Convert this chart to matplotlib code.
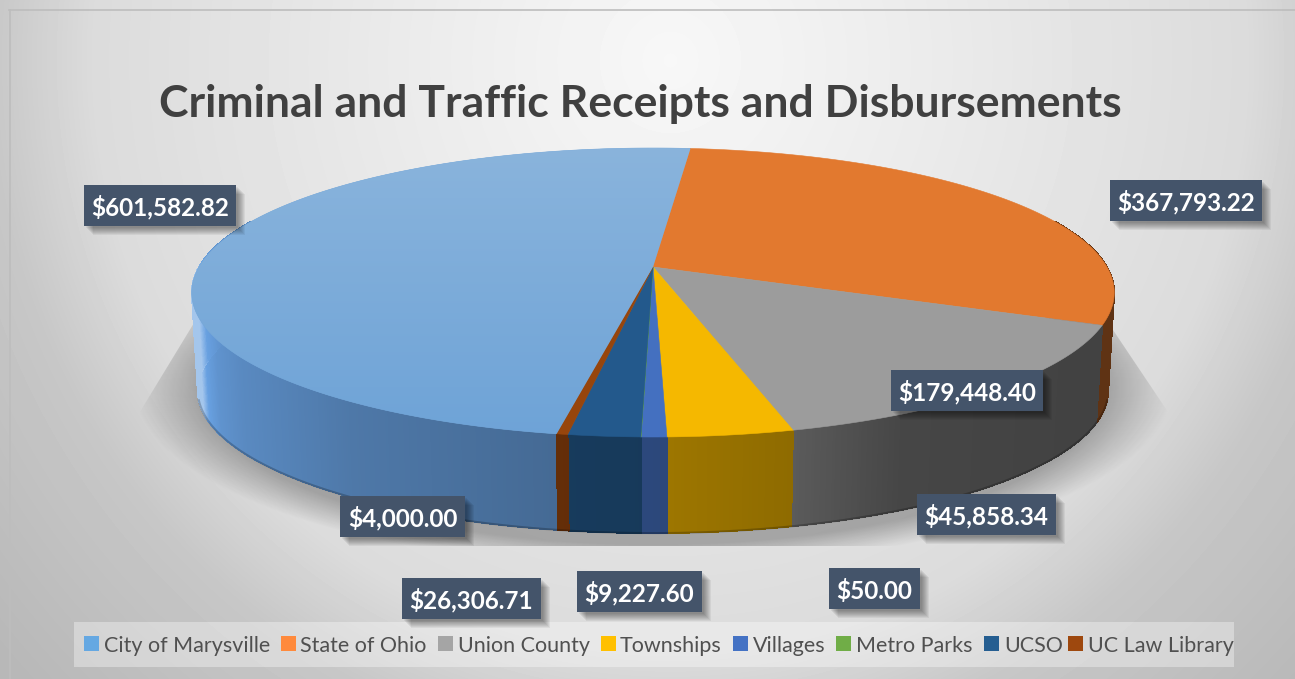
import numpy as np
import matplotlib
matplotlib.use('Agg')
import matplotlib.pyplot as plt
from matplotlib.collections import PolyCollection
from matplotlib.colors import to_rgb
from matplotlib.patches import Polygon, Rectangle

plt.rcParams['font.family'] = ['Lato', 'DejaVu Sans']

categories = ['City of Marysville', 'State of Ohio', 'Union County', 'Townships',
              'Villages', 'Metro Parks', 'UCSO', 'UC Law Library']
values = [601582.82, 367793.22, 179448.40, 45858.34, 9227.60, 50.00, 26306.71, 4000.00]
value_labels = ['$601,582.82', '$367,793.22', '$179,448.40', '$45,858.34',
                '$9,227.60', '$50.00', '$26,306.71', '$4,000.00']
top_colors = ['#74a7d9', '#e2792f', '#9c9c9c', '#f5b800', '#4470c0', '#70ad47', '#23598c', '#97450c']
side_colors = ['#68a0e0', '#e2792f', '#9c9c9c', '#f5b800', '#4470c0', '#70ad47', '#23598c', '#97450c']
legend_colors = ['#65a8e2', '#ff8a3c', '#a5a5a5', '#ffc000', '#4472c4', '#70ad47', '#255e91', '#9e480e']

W, H = 1295, 679
# label boxes in pixels: left, right, top, bottom
label_boxes = [(84, 236, 185, 226), (1110, 1262, 180, 221), (891, 1043, 370, 411), (917, 1056, 494, 535),
               (577, 702, 571, 612), (829, 920, 568, 609), (402, 541, 578, 619), (340, 465, 496, 537)]
legend_swatches = [84, 281, 438, 601, 733, 836, 984, 1068]
legend_text = [104, 300, 458, 620, 753, 856, 1004, 1088]

# pie geometry, perspective disc mapped to the screen
cx, cy = 653, 267
R, B, k = 454, 140, 0.1765
depth = 98
shrink = 0.987
first_angle = 190.1


def top_point(theta):
    t = np.radians(theta)
    u, v = np.sin(t), -np.cos(t)
    d = 1 - k * v
    return cx + R * u / d, cy + B * v / d


def bottom_point(theta):
    x, y = top_point(theta)
    yc = 292
    return cx + (x - cx) * shrink, yc + (y - yc) * shrink + depth


def side_factor(x):
    return np.interp(x, [197, 203, 215, 240, 350, 560, 670, 795, 900, 1100],
                     [1.4, 1.0, 0.92, 0.86, 0.75, 0.66, 0.64, 0.58, 0.45, 0.42])


def shade(color, f):
    c = np.array(to_rgb(color))
    if f > 1:
        return tuple(c + (1 - c) * (f - 1))
    return tuple(c * f)


fig = plt.figure(figsize=(W / 100, H / 100), dpi=100, facecolor='white')
ax = fig.add_axes([0, 0, 1, 1])
ax.axis('off')

# background
yy, xx = np.mgrid[0:H, 0:W]
t = np.sqrt(((xx - 670) / 680.0) ** 2 + ((yy - 60) / 700.0) ** 2)
bg = np.interp(t, [0, 0.4, 0.85, 1.0, 1.3], [0.97, 0.92, 0.86, 0.78, 0.72])
ax.imshow(bg, cmap='gray', vmin=0, vmax=1, extent=(0, W, H, 0), aspect='auto', zorder=1,
          clip_path=Rectangle((10, 10), W - 10, H - 10, transform=ax.transData))
ax.plot([9, W], [10, 10], color='#bdbdbd', lw=1.2, zorder=2)
ax.plot([9.5, 9.5], [10, H], color='#bdbdbd', lw=1.2, zorder=2)

# shadow under the pie
d = np.sqrt(((xx - cx) / 520.0) ** 2 + ((yy - 387) / 180.0) ** 2)
sh = 0.27 * np.clip((1 - d) / 0.13, 0, 1)
rgba = np.zeros((H, W, 4))
rgba[..., 3] = sh
sh_im = ax.imshow(rgba, extent=(0, W, H, 0), aspect='auto', zorder=3)
sh_clip = Polygon([(197, 318), (135, 420), (135, 546), (1170, 546), (1170, 415), (1105, 318)],
                  transform=ax.transData)
sh_im.set_clip_path(sh_clip)

# pie sides and top
edges = first_angle + np.concatenate([[0], np.cumsum(values)]) / np.sum(values) * 360
quads, quad_colors = [], []
for i, color in enumerate(side_colors):
    a0, a1 = edges[i], edges[i + 1]
    steps = max(2, int((a1 - a0) * 3))
    th = np.linspace(a0, a1, steps)
    for t0, t1 in zip(th[:-1], th[1:]):
        mid = (t0 + t1) / 2 % 360
        if mid < 70 or mid > 290:
            continue
        p0, p1 = top_point(t0), top_point(t1)
        q1, q0 = bottom_point(t1), bottom_point(t0)
        quads.append([p0, p1, q1, q0])
        quad_colors.append(shade(color, side_factor((p0[0] + p1[0]) / 2)))
ax.add_collection(PolyCollection(quads, facecolors=quad_colors, edgecolors=quad_colors,
                                 linewidths=0.5, antialiaseds=False, zorder=4))

rim = np.linspace(104, 256, 200)
rx, ry = bottom_point(rim)
ax.plot(rx, ry, color='black', alpha=0.22, lw=1.5, zorder=5)

for i, color in enumerate(top_colors):
    th = np.linspace(edges[i], edges[i + 1], max(2, int((edges[i + 1] - edges[i]) * 3)))
    ax_pts = np.column_stack(top_point(th))
    pts = np.vstack([[cx, cy], ax_pts])
    wedge = Polygon(pts, closed=True, facecolor=color, edgecolor=color, lw=0.4, zorder=6)
    ax.add_patch(wedge)
    if i == 0:
        # blue slice fades a little lighter towards the back
        grad = np.zeros((100, 1, 3))
        top_c, low_c = np.array(to_rgb('#8ab4dc')), np.array(to_rgb('#6ea3d7'))
        for j in range(100):
            grad[j, 0] = top_c + (low_c - top_c) * j / 99
        im = ax.imshow(grad, extent=(150, 700, 440, 145), aspect='auto', zorder=6.5)
        im.set_clip_path(Polygon(pts, closed=True, transform=ax.transData))

# value labels
for (l, r, tp, b), txt in zip(label_boxes, value_labels):
    for off in [9, 8, 7, 6, 5, 4, 3, 2]:
        ax.add_patch(Rectangle((l + off, tp + off), r - l, b - tp, facecolor='black', alpha=0.055,
                               edgecolor='none', zorder=8))
    ax.add_patch(Rectangle((l, tp), r - l, b - tp, facecolor='#44546a', edgecolor='none', zorder=9))
    ax.text((l + r) / 2, (tp + b) / 2, txt, color='white', fontsize=17.5, fontweight='bold',
            ha='center', va='center_baseline', zorder=10)

# title
ax.text(640, 101, 'Criminal and Traffic Receipts and Disbursements', color='#404040',
        fontsize=32, fontweight='bold', ha='center', va='center_baseline', zorder=10)

# legend
ax.add_patch(Rectangle((74, 622), 1160, 45, facecolor='white', alpha=0.35, edgecolor='none', zorder=7))
for name, color, sx, tx in zip(categories, legend_colors, legend_swatches, legend_text):
    ax.add_patch(Rectangle((sx, 636), 15, 15, facecolor=color, edgecolor='none', zorder=10))
    ax.text(tx, 643.5, name, color='#505050', fontsize=15.5, ha='left', va='center_baseline', zorder=10)

ax.set_xlim(0, W)
ax.set_ylim(H, 0)
fig.savefig('out.png', dpi=100, facecolor='white')
